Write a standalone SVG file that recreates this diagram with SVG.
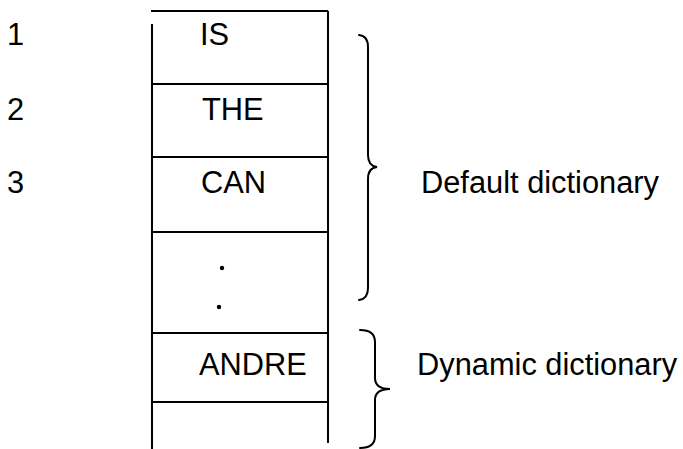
<svg xmlns="http://www.w3.org/2000/svg" width="683" height="449" viewBox="0 0 683 449">
<style>
text{font-family:"Liberation Sans",Arial,sans-serif;font-size:30.8px;fill:#000}
.ln{stroke:#000;stroke-width:2;fill:none}
.br{stroke:#000;stroke-width:2;fill:none;stroke-linecap:round}
</style>
<rect width="683" height="449" fill="#fff"/>
<g id="table">
<path class="ln" d="M151 11H328M152 24V449M328 11V443M152 84H328M152 157H328M152 232H328M152 333H328M152 402H328"/>
</g>
<g id="row1"><text x="7" y="45">1</text><text x="200" y="45">IS</text></g>
<g id="row2"><text x="7" y="120">2</text><text x="202" y="120">THE</text></g>
<g id="row3"><text x="7" y="193">3</text><text x="201" y="193">CAN</text></g>
<g id="row4"><circle cx="222" cy="268" r="2.2"/><circle cx="219" cy="307" r="2.2"/></g>
<g id="row5"><text x="199" y="375">ANDRE</text></g>
<g id="row6"></g>
<g id="connectors">
<path class="br" d="M359 35Q368 36 368 47V155Q368 166 377 167Q368 168 368 179V288Q368 299 359 300"/>
<path class="br" d="M360 330Q375 330 375 342V378Q375 389 390 389Q375 389 375 400V436Q375 448 360 448"/>
</g>
<g id="default-label"><text x="421" y="193">Default dictionary</text></g>
<g id="dynamic-label"><text x="417" y="375">Dynamic dictionary</text></g>
</svg>
